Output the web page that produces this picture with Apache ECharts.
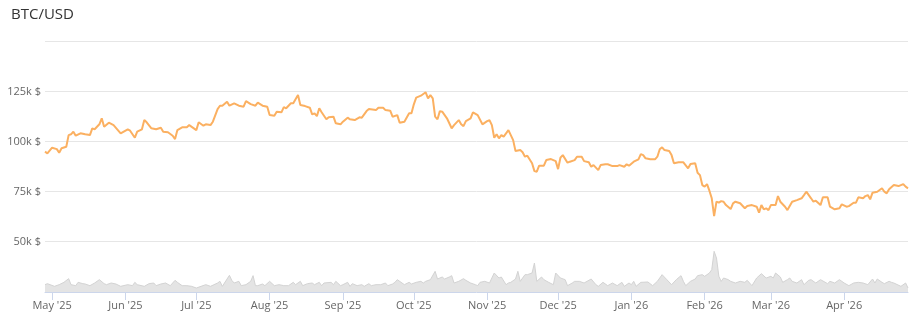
<!DOCTYPE html>
<html>
<head>
<meta charset="utf-8">
<script src="https://cdn.jsdelivr.net/npm/echarts@6/dist/echarts.min.js"></script>
<style>
html,body{margin:0;padding:0;background:#fff;}
#chart{width:920px;height:315px;}
</style>
</head>
<body>
<div id="chart"></div>
<script>
// Daily axis starts here; point positions below are day offsets from this date.
const START_DATE = '2025-04-28';
const DAY_COUNT = 366;
const MONTHS = ['Jan','Feb','Mar','Apr','May','Jun','Jul','Aug','Sep','Oct','Nov','Dec'];
const priceTicks = [50000, 75000, 100000, 125000, 150000];

// BTC/USD close (thousands of USD)
const priceDay = [0,1,3,5,6,7,9,10,11,12,13,15,17,19,20,21,23,24,25,27,29,32,35,36,38,39,41,42,43,45,47,49,50,52,54,55,56,58,60,61,64,65,67,68,70,71,73,74,75,77,78,80,82,84,85,87,89,90,92,94,95,97,98,100,101,102,104,105,107,108,110,112,113,114,115,116,117,119,120,122,123,
125,126,128,129,131,133,134,136,137,140,141,143,144,146,147,149,150,152,154,155,156,157,159,161,162,163,164,165,166,167,168,170,172,173,175,176,177,178,180,181,183,185,187,188,189,190,191,192,193,194,196,197,198,199,201,202,203,204,206,207,208,209,211,212,214,215,216,217,218,219,221,222,224,225,227,228,230,231,232,234,235,237,238,240,242,243,
245,246,247,249,251,252,253,254,256,258,259,260,261,262,264,265,266,268,270,272,273,275,276,277,278,279,280,281,282,283,284,285,286,287,288,290,291,292,294,296,297,299,301,302,303,304,305,306,307,309,310,311,313,314,316,318,320,321,322,324,325,326,328,329,331,332,334,336,337,339,340,342,343,344,346,347,348,349,350,352,354,355,356,357,359,361,362,363,364,365];
const priceK = [95,94.2,97,96.3,94.5,96.7,97.5,103.3,103.7,105,103,104.2,103.7,103.3,106.7,106.2,108.7,111.7,107.5,109.5,108.3,104.2,106.2,105.5,102,105,106.2,110.8,109.7,106.7,106.2,107,105,104.7,103,101.3,105.8,107.2,107.2,108.3,105.8,109.7,108,108.7,108.3,110,116.3,118,118,120,118,119.2,118,117.5,120.3,118.8,118,119.5,118,117.5,113.3,113,115,114.7,117.3,116.7,119.2,119.2,123.3,118.3,117.8,117,113.7,114.2,112.8,116.7,114.7,111.2,112.2,112.5,109.2,
108.7,110,112,111.2,110.8,112.2,112,115.3,116.3,115.8,117,117,115.8,115.5,112.5,113.3,109.5,110,114.2,114.2,118.7,122,123,124.7,121.7,123.3,121.7,112.5,111.2,115.3,115,111.7,106.7,108.3,110.8,108.7,107.8,110.3,111.7,114.7,113.3,108.7,110.3,110.7,108.3,102,103.7,101.7,103.3,102.5,105.8,103.3,100.8,95.3,95.8,94.7,92.5,93,89.2,85.3,85,88,88,90.8,91.3,90.8,90.3,86.3,92,93.3,89.5,90,90.8,92.5,92.5,90.3,89.7,87.5,88.3,85.8,88.3,88.7,88.7,87.8,87.8,88.3,
87.5,88.7,88,90,91.2,93.8,93.3,91.7,91.2,91.2,92.5,96.2,97.2,95.8,95.3,93.3,89.2,89.7,89.7,86.7,88.8,89.2,84.5,83.3,78.3,77.5,78.8,75.5,71.7,62.8,70,69.5,70.3,70,68.3,66.3,69.2,70,69.2,66.7,67.8,68.3,67.5,64.5,68.3,66.2,66.7,65.8,68.3,68.3,72.8,70,67.5,65.8,70,70.8,71.7,73.3,75,71.7,70,70.5,68.3,72.2,72.2,67.5,66.2,66.7,68.7,67.5,67.8,69.5,69.5,72.2,71.7,72.8,73.3,71.2,74.5,75,76.7,75,74.2,76.2,78.3,77.8,78.3,78.8,77.5,76.7];

// Daily traded volume (billions of USD, estimated)
const volumeDay = [0,1,4,6,8,10,11,13,14,16,17,19,21,23,25,26,28,30,32,35,37,38,39,42,44,46,47,49,51,53,55,56,58,60,62,64,66,68,70,73,74,75,78,79,80,82,83,85,87,88,89,90,92,93,95,97,99,101,103,105,106,108,109,111,113,114,116,117,118,121,122,123,125,126,128,129,130,132,134,135,137,138,140,142,144,145,147,148,149,151,152,154,155,157,159,160,161,163,165,166,168,169,171,172,173,175,177,178,180,182,183,184,
186,188,190,192,193,195,196,197,199,200,201,203,204,206,207,208,210,211,213,215,216,218,220,221,223,224,226,228,231,233,234,236,238,240,242,244,245,247,248,249,250,252,255,257,259,261,263,265,267,269,270,271,273,275,276,278,279,281,282,283,284,285,286,287,289,290,292,294,296,297,299,301,303,305,307,308,309,311,312,314,315,316,318,320,321,323,324,326,328,331,332,334,336,338,340,342,344,346,348,350,351,352,354,355,357,358,359,362,364,365];
const volumeB = [11,12.5,8.5,11,14.5,20,11,9.5,14.5,12.5,12,9.5,13.5,18.5,12.5,11,13.5,12,8.5,11,9.5,14.5,11,8.5,12.5,13.5,9.5,12,13.5,9.5,17.5,14.5,9.5,9.5,8.5,6,8.5,11,8.5,13.5,16,8.5,25,17.5,13.5,16,9.5,11,16,24.5,9.5,9.5,12,9.5,16,9.5,11,9.5,9.5,14.5,11,16,9.5,12.5,13.5,11,14.5,9.5,13.5,14.5,11,16,9.5,11,14.5,8.5,12.5,9.5,11,8.5,12.5,9.5,11,11,13.5,9.5,12,14.5,18.5,13.5,11,14.5,12,14.5,16,13.5,16,18.5,31,19.5,22.5,19.5,22.5,24.5,13.5,16,20,17.5,13.5,11,9.5,14.5,
16,13.5,28.5,21,22.5,11,13.5,14.5,19.5,31,16,26,26,28.5,43.5,16,22.5,18.5,14.5,11,28.5,21,18.5,9.5,13.5,16,16,13.5,19.5,11,8.5,14.5,9.5,13.5,9.5,14.5,8.5,13.5,11,16,8.5,14.5,15,9.5,16,26,18.5,11,18.5,24.5,16,9.5,16,19.5,24.5,26,23.5,28.5,33.5,61,51,23.5,16,21,18.5,16,13.5,16,14.5,17.5,9.5,21,27.5,21,23.5,21,28.5,22.5,14.5,18.5,21,16,13.5,18.5,11,17.5,18.5,13.5,18.5,12.5,16,13.5,18.5,13.5,9.5,13.5,14.5,13.5,11,19.5,13.5,19.5,14.5,12.5,16,14.5,13.5,8.5,13.5,6];

// Build the daily category axis and align the readings to it
const dates = [];
const startMs = Date.parse(START_DATE + 'T00:00:00Z');
for (let i = 0; i < DAY_COUNT; i++) {
  const d = new Date(startMs + i * 86400000);
  dates.push(d.toISOString().slice(0, 10));
}
const priceSeries = new Array(DAY_COUNT).fill(null);
priceDay.forEach((d, i) => { priceSeries[d] = Math.round(priceK[i] * 1000); });
const volumeSeries = new Array(DAY_COUNT).fill(null);
volumeDay.forEach((d, i) => { volumeSeries[d] = volumeB[i]; });

const isMonthStart = (idx, val) => val.slice(8, 10) === '01';
const fmtMonth = (val) => MONTHS[+val.slice(5, 7) - 1] + " '" + val.slice(2, 4);
const FONT = '"Open Sans", "Noto Sans", sans-serif';

const chart = echarts.init(document.getElementById('chart'), null, {renderer: 'canvas'});
chart.setOption({
  animation: false,
  backgroundColor: '#ffffff',
  title: {
    text: 'BTC/USD',
    left: 6, top: 2,
    textStyle: {fontFamily: FONT, fontSize: 15, fontWeight: 'normal', color: '#333333'}
  },
  grid: [
    {left: 45, right: 12, top: 41.7, height: 200},
    {left: 45, right: 12, top: 242, bottom: 23}
  ],
  xAxis: [
    {type: 'category', gridIndex: 0, data: dates, boundaryGap: false, show: false},
    {type: 'category', gridIndex: 1, data: dates, boundaryGap: false,
     axisLine: {show: true, lineStyle: {color: '#ccd6eb', width: 1}},
     axisTick: {show: true, interval: isMonthStart, length: 8, lineStyle: {color: '#ccd6eb'}},
     axisLabel: {interval: isMonthStart, formatter: fmtMonth, margin: 8,
                 fontFamily: FONT, fontSize: 11, color: '#666666'},
     splitLine: {show: false}}
  ],
  yAxis: [
    {type: 'value', gridIndex: 0, min: priceTicks[0], max: priceTicks[priceTicks.length - 1],
     interval: priceTicks[1] - priceTicks[0],
     axisLine: {show: false}, axisTick: {show: false},
     axisLabel: {showMaxLabel: false, margin: 4, fontFamily: FONT, fontSize: 11, color: '#666666',
                 formatter: (v) => (v / 1000) + 'k $'},
     splitLine: {lineStyle: {color: '#e6e6e6', width: 1}}},
    {type: 'value', gridIndex: 1, min: 0, max: 75, show: false, splitLine: {show: false}}
  ],
  series: [
    {name: 'Volume', type: 'line', xAxisIndex: 1, yAxisIndex: 1, data: volumeSeries,
     connectNulls: true, showSymbol: false, symbol: 'none',
     lineStyle: {color: '#d3d3d3', width: 1},
     areaStyle: {color: '#e4e4e4', opacity: 1}},
    {name: 'BTC/USD', type: 'line', xAxisIndex: 0, yAxisIndex: 0, data: priceSeries,
     connectNulls: true, showSymbol: false, symbol: 'none',
     lineStyle: {color: '#fbb061', width: 2}}
  ]
});
</script>
</body>
</html>
